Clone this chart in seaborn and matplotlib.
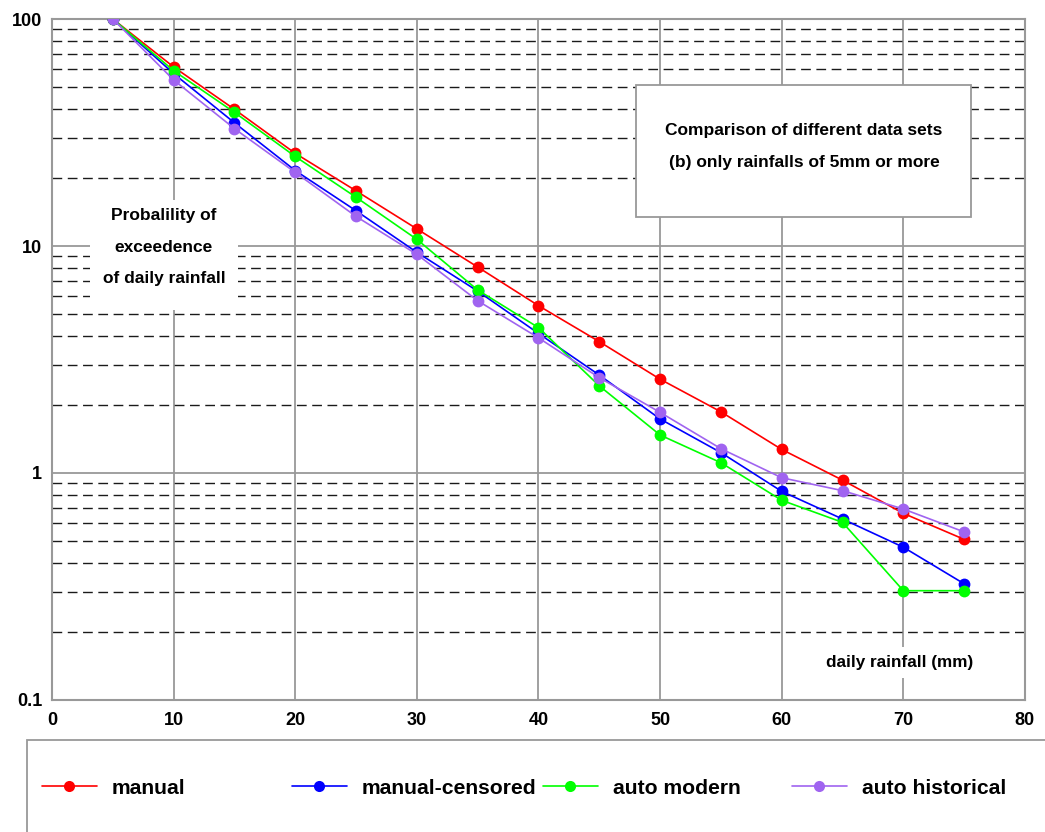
import numpy as np
import pandas as pd
import seaborn as sns
import matplotlib.pyplot as plt
from matplotlib.lines import Line2D
from matplotlib.patches import Rectangle
from matplotlib.ticker import FixedLocator, FixedFormatter

rain = [5, 10, 15, 20, 25, 30, 35, 40, 45, 50, 55, 60, 65, 70, 75]

manual = [100, 61.5, 40.0, 25.6, 17.5, 11.9, 8.08, 5.46, 3.79, 2.59, 1.86, 1.27, 0.93, 0.664, 0.51]
manual_censored = [100, 57.5, 34.9, 21.5, 14.3, 9.38, 6.33, 4.12, 2.70, 1.73, 1.23, 0.83, 0.627, 0.471, 0.325]
auto_modern = [100, 59.2, 38.8, 24.8, 16.4, 10.7, 6.40, 4.37, 2.42, 1.47, 1.11, 0.758, 0.606, 0.303, 0.303]
auto_historical = [100, 53.9, 32.9, 21.1, 13.5, 9.19, 5.74, 3.94, 2.63, 1.85, 1.28, 0.953, 0.836, 0.694, 0.55]

series_names = ['manual', 'manual-censored', 'auto modern', 'auto historical']
series_colors = ['#FF0000', '#0000FF', '#00FF00', '#A064F0']

y_ticks = [0.1, 1, 10, 100]
y_labels = ['0.1', '1', '10', '100']
x_ticks = [0, 10, 20, 30, 40, 50, 60, 70, 80]

df = pd.DataFrame({
    'rain': rain * 4,
    'prob': manual + manual_censored + auto_modern + auto_historical,
    'series': sum([[s] * len(rain) for s in series_names], []),
})

sns.set_style('white')
plt.rcParams['font.family'] = ['Liberation Sans', 'DejaVu Sans']
plt.rcParams['font.weight'] = 'bold'
plt.rcParams['text.color'] = 'black'
plt.rcParams['xtick.color'] = 'black'
plt.rcParams['ytick.color'] = 'black'

fig = plt.figure(figsize=(10.45, 8.32), dpi=100)
ax = fig.add_axes([0.0498, 0.1587, 0.931, 0.8184])

sns.lineplot(data=df, x='rain', y='prob', hue='series', hue_order=series_names,
             palette=series_colors, marker='o', markersize=8.5, markeredgewidth=0,
             linewidth=1.2, legend=False, ax=ax, zorder=3)

ax.set_yscale('log')
ax.set_xlim(0, 80)
ax.set_ylim(0.1, 100)
ax.xaxis.set_major_locator(FixedLocator(x_ticks))
ax.yaxis.set_major_locator(FixedLocator(y_ticks))
ax.yaxis.set_major_formatter(FixedFormatter(y_labels))
ax.yaxis.set_minor_locator(FixedLocator([m * d for d in [0.1, 1, 10] for m in range(2, 10)]))
ax.yaxis.set_minor_formatter(FixedFormatter([]))

ax.set_axisbelow(True)
ax.grid(which='major', axis='both', color='#999999', linewidth=1.3, linestyle='-')
ax.grid(which='minor', axis='y', color='#1a1a1a', linewidth=1.0, linestyle=(0, (7, 4)))
ax.tick_params(which='both', length=0)
ax.tick_params(axis='y', pad=7, labelsize=13)
ax.tick_params(axis='x', pad=9, labelsize=13)
for lab in ax.get_xticklabels() + ax.get_yticklabels():
    lab.set_fontweight('bold')
for sp in ax.spines.values():
    sp.set_color('#999999')
    sp.set_linewidth(1.5)
ax.set_xlabel('')
ax.set_ylabel('')

# y-axis caption with white backing
ax.add_patch(Rectangle((3.1, 5.2), 12.2, 15.9 - 5.2, facecolor='white', edgecolor='none', zorder=1))
ax.text(9.2, 9.9, 'Probalility of\nexceedence\nof daily rainfall', ha='center', va='center',
        fontsize=12.5, fontweight='bold', linespacing=2.4, zorder=4)

# title box
ax.add_patch(Rectangle((0.600, 0.709), 0.3445, 0.194, transform=ax.transAxes,
                       facecolor='white', edgecolor='#999999', linewidth=1.3, zorder=4))
ax.text(0.773, 0.836, 'Comparison of different data sets', transform=ax.transAxes,
        ha='center', va='center', fontsize=12.5, fontweight='bold', zorder=5)
ax.text(0.773, 0.789, '(b) only rainfalls of 5mm or more', transform=ax.transAxes,
        ha='center', va='center', fontsize=12.5, fontweight='bold', zorder=5)

ax.text(69.7, 0.146, 'daily rainfall (mm)', ha='center', va='center', fontsize=12.3,
        fontweight='bold', zorder=4,
        bbox=dict(facecolor='white', edgecolor='none', boxstyle='square,pad=0.45'))

# legend box below the plot
fig.patches.append(Rectangle((0.0258, -0.01), 1.0, 0.1206, transform=fig.transFigure,
                             facecolor='white', edgecolor='#999999', linewidth=1.3))
legend_x = [42, 292, 543, 792]
for name, col, px in zip(series_names, series_colors, legend_x):
    h = Line2D([], [], color=col, marker='o', markersize=8, markeredgewidth=0, linewidth=1.2)
    fig.legend([h], [name], loc='center left', bbox_to_anchor=(px / 1045, 1 - 788 / 832),
               frameon=False, borderpad=0, borderaxespad=0, handlelength=2.6,
               handletextpad=0.7, prop={'size': 15.2, 'weight': 'bold'})

fig.savefig('out.png', dpi=100)
